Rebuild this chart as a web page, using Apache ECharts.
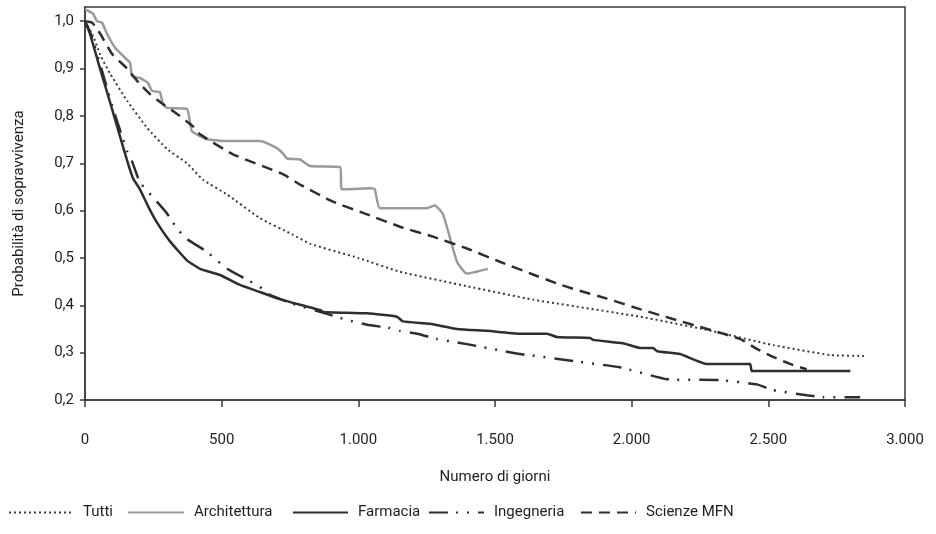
<!DOCTYPE html>
<html>
<head>
<meta charset="utf-8">
<script src="https://cdn.jsdelivr.net/npm/echarts@6/dist/echarts.min.js"></script>
<style>
  html, body { margin: 0; padding: 0; background: #fff; }
  #chart { width: 936px; height: 534px; }
</style>
</head>
<body>
<div id="chart"></div>
<script>
var xTicks = [0, 500, 1000, 1500, 2000, 2500, 3000];
var yTicks = [0.2, 0.3, 0.4, 0.5, 0.6, 0.7, 0.8, 0.9, 1.0];
var seriesNames = ['Tutti', 'Architettura', 'Farmacia', 'Ingegneria', 'Scienze MFN'];

// [giorni, probabilità]
var tutti = [
    [0, 1.0], [29, 0.97], [55, 0.93], [91, 0.89], [154, 0.832], [227, 0.775],
    [300, 0.73], [373, 0.70], [432, 0.665], [520, 0.634], [640, 0.584], [761, 0.549],
    [823, 0.530], [1000, 0.500], [1152, 0.471], [1400, 0.44], [1639, 0.412],
    [2030, 0.376], [2276, 0.348], [2517, 0.316], [2726, 0.295], [2850, 0.293]
];
var architettura = [
    [0, 1.025], [29, 1.016], [44, 1.0], [62, 0.997], [80, 0.974], [110, 0.944],
    [146, 0.923], [165, 0.912], [172, 0.884], [201, 0.88], [230, 0.87], [245, 0.853],
    [274, 0.85], [285, 0.825], [300, 0.817], [373, 0.815], [391, 0.768], [446, 0.751],
    [505, 0.747], [640, 0.747], [702, 0.732], [724, 0.721], [739, 0.71], [787, 0.708],
    [823, 0.694], [933, 0.692], [940, 0.645], [1043, 0.647], [1060, 0.645], [1079, 0.605],
    [1251, 0.605], [1280, 0.611], [1310, 0.592], [1361, 0.492], [1397, 0.467], [1474, 0.477]
];
var farmacia = [
    [0, 1.0], [18, 0.974], [55, 0.90], [91, 0.83], [139, 0.735], [157, 0.70],
    [176, 0.668], [201, 0.645], [230, 0.61], [263, 0.575], [311, 0.535], [373, 0.495],
    [421, 0.477], [494, 0.464], [567, 0.443], [640, 0.428], [713, 0.413], [787, 0.401],
    [860, 0.39], [871, 0.386], [1032, 0.383], [1141, 0.376], [1163, 0.366], [1262, 0.361],
    [1361, 0.35], [1471, 0.346], [1591, 0.34], [1690, 0.34], [1727, 0.333], [1848, 0.331],
    [1859, 0.327], [1968, 0.32], [2030, 0.31], [2078, 0.31], [2093, 0.303], [2177, 0.297],
    [2276, 0.276], [2433, 0.276], [2440, 0.261], [2800, 0.261]
];
var ingegneria = [
    [0, 1.0], [20, 0.975], [60, 0.9], [100, 0.82], [154, 0.725], [172, 0.704],
    [201, 0.66], [263, 0.619], [300, 0.594], [337, 0.562], [373, 0.54], [446, 0.513],
    [520, 0.477], [593, 0.454], [640, 0.439], [669, 0.424], [761, 0.403], [885, 0.382],
    [959, 0.369], [1032, 0.359], [1116, 0.352], [1152, 0.346], [1215, 0.34], [1288, 0.329],
    [1346, 0.323], [1397, 0.318], [1507, 0.306], [1591, 0.297], [1665, 0.292], [1738, 0.286],
    [1957, 0.269], [2129, 0.244], [2323, 0.242], [2458, 0.233], [2517, 0.221], [2641, 0.210],
    [2700, 0.206], [2836, 0.206]
];
var scienzeMFN = [
    [0, 1.0], [26, 0.997], [55, 0.974], [99, 0.931], [154, 0.90], [201, 0.867],
    [238, 0.846], [285, 0.825], [337, 0.804], [395, 0.778], [421, 0.761], [541, 0.719],
    [724, 0.677], [787, 0.655], [907, 0.619], [1032, 0.592], [1152, 0.566], [1273, 0.545],
    [1397, 0.52], [1518, 0.492], [1639, 0.465], [1727, 0.446], [1785, 0.435], [1910, 0.414],
    [2030, 0.392], [2151, 0.371], [2276, 0.35], [2396, 0.329], [2458, 0.308], [2517, 0.291],
    [2590, 0.274], [2640, 0.265]
];

var fontFam = 'Roboto, sans-serif';
var textColor = '#1e1e1e';
var fs = 15;

function line(name, data, color, width, type) {
    return {
        name: name,
        type: 'line',
        data: data,
        symbol: 'none',
        smooth: 0.15,
        lineStyle: { color: color, width: width, type: type, cap: 'butt' },
        itemStyle: { color: color, opacity: 0 }
    };
}

function legendAt(name, left, width) {
    return {
        data: [name],
        left: left, top: 500,
        itemWidth: width, itemHeight: 12,
        itemStyle: { opacity: 0 },
        textStyle: { fontFamily: fontFam, fontSize: fs, color: textColor, padding: [0, 0, 0, 5] }
    };
}

var myChart = echarts.init(document.getElementById('chart'));
var option = {
    animation: false,
    textStyle: { fontFamily: fontFam, color: textColor },
    grid: {
        left: 85, right: 31, top: 7, bottom: 134,
        show: true, borderColor: '#3a3a3a', borderWidth: 1.5
    },
    legend: [
        legendAt('Tutti', 3, 64),
        legendAt('Architettura', 122, 56),
        legendAt('Farmacia', 287, 55),
        legendAt('Ingegneria', 423, 55),
        legendAt('Scienze MFN', 575, 55)
    ],
    xAxis: {
        type: 'value',
        min: 0, max: 3000, interval: 500,
        name: 'Numero di giorni',
        nameLocation: 'middle',
        nameGap: 70,
        nameTextStyle: { fontFamily: fontFam, fontSize: fs, color: textColor },
        axisLine: { lineStyle: { color: '#3a3a3a', width: 1.5 } },
        axisTick: { length: 7, lineStyle: { color: '#3a3a3a', width: 1.5 }, customValues: xTicks },
        splitLine: { show: false },
        axisLabel: {
            margin: 33, fontSize: fs, color: textColor, customValues: xTicks,
            formatter: function (v) { return String(v).replace(/\B(?=(\d{3})+(?!\d))/g, '.'); }
        }
    },
    yAxis: {
        type: 'value',
        min: 0.2, max: 1.03,
        name: 'Probabilità di sopravvivenza',
        nameLocation: 'middle',
        nameGap: 58,
        nameTextStyle: { fontFamily: fontFam, fontSize: fs, color: textColor },
        axisLine: { show: true, lineStyle: { color: '#3a3a3a', width: 1.5 } },
        axisTick: { show: true, length: 5, lineStyle: { color: '#3a3a3a', width: 1.5 }, customValues: yTicks },
        splitLine: { show: false },
        axisLabel: {
            margin: 11, fontSize: fs, color: textColor, customValues: yTicks,
            formatter: function (v) { return v.toFixed(1).replace('.', ','); }
        }
    },
    series: [
        line('Tutti', tutti, '#3a3a3a', 2, [2, 3]),
        line('Architettura', architettura, '#9a9a9a', 2.5, 'solid'),
        line('Farmacia', farmacia, '#2e2e2e', 2.5, 'solid'),
        line('Ingegneria', ingegneria, '#2e2e2e', 2.5, [19, 8, 2, 9, 2, 9]),
        line('Scienze MFN', scienzeMFN, '#2e2e2e', 2.5, [11, 7])
    ]
};
myChart.setOption(option);
</script>
</body>
</html>
